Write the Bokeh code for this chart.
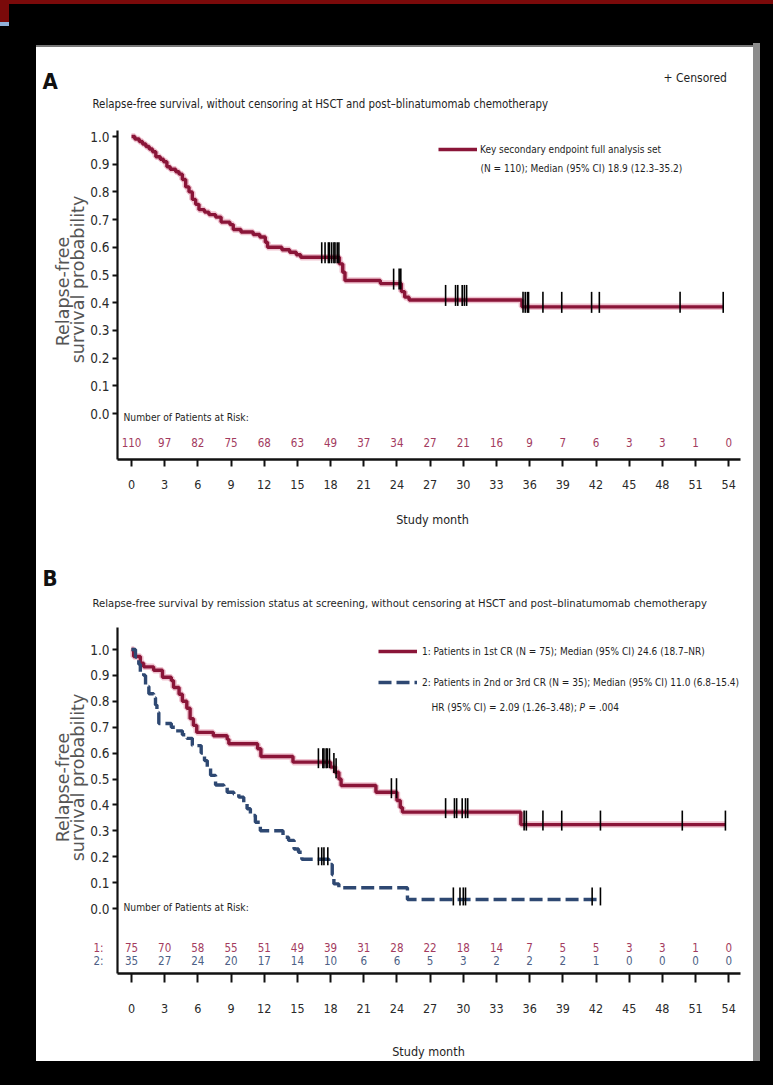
import numpy as np
from bokeh.plotting import figure
from bokeh.layouts import column
from bokeh.models import (Range1d, FixedTicker, PrintfTickFormatter, Label, Legend, LegendItem,
                          GlobalInlineStyleSheet)
from bokeh.core.properties import value
from bokeh.embed import file_html
from bokeh.resources import INLINE

# ---------------- data ----------------
months = [0, 3, 6, 9, 12, 15, 18, 21, 24, 27, 30, 33, 36, 39, 42, 45, 48, 51, 54]
y_ticks = [0.0, 0.1, 0.2, 0.3, 0.4, 0.5, 0.6, 0.7, 0.8, 0.9, 1.0]

# Panel A: full analysis set
a_time = [0, 0.3, 0.7, 1.0, 1.3, 1.6, 1.9, 2.2, 2.6, 2.9, 3.2, 3.5, 4.0, 4.3, 4.6, 4.9, 5.2, 5.5,
          5.8, 6.1, 6.6, 7.0, 7.6, 8.1, 8.9, 9.2, 9.9, 11.0, 11.6, 12.1, 12.3, 13.6, 14.3, 14.9,
          15.3, 18.8, 19.1, 19.3, 22.5, 24.4, 24.7, 25.1, 35.3]
a_surv = [1.0, 0.991, 0.982, 0.973, 0.964, 0.955, 0.945, 0.927, 0.918, 0.909, 0.891, 0.882, 0.873,
          0.864, 0.845, 0.818, 0.800, 0.773, 0.755, 0.736, 0.727, 0.718, 0.709, 0.691, 0.682, 0.664,
          0.655, 0.646, 0.637, 0.618, 0.600, 0.591, 0.582, 0.573, 0.564, 0.540, 0.510, 0.480, 0.469,
          0.440, 0.420, 0.410, 0.385]
a_end = 53.5
a_censor = [17.2, 17.5, 17.8, 17.9, 18.1, 18.3, 18.4, 18.6, 18.75, 23.7, 24.2, 24.35, 28.4, 29.3,
            29.5, 29.9, 30.1, 30.3, 35.4, 35.6, 35.8, 35.9, 37.2, 38.9, 41.6, 42.3, 49.6, 53.5]
a_risk = [110, 97, 82, 75, 68, 63, 49, 37, 34, 27, 21, 16, 9, 7, 6, 3, 3, 1, 0]

# Panel B: group 1 (1st CR) and group 2 (2nd or 3rd CR)
b1_time = [0, 0.2, 0.8, 1.1, 2.0, 2.8, 3.6, 3.8, 4.3, 4.6, 5.0, 5.3, 5.6, 5.9, 7.4, 8.65, 8.8,
           11.4, 11.7, 14.6, 18.0, 18.4, 18.75, 18.95, 22.1, 24.0, 24.3, 24.5, 35.2]
b1_surv = [1.0, 0.973, 0.947, 0.933, 0.920, 0.893, 0.880, 0.853, 0.827, 0.800, 0.773, 0.733,
           0.707, 0.680, 0.667, 0.653, 0.636, 0.617, 0.587, 0.565, 0.546, 0.526, 0.500, 0.475,
           0.449, 0.417, 0.390, 0.372, 0.324]
b1_end = 53.7
b1_censor = [16.9, 17.3, 17.4, 17.6, 17.7, 17.9, 18.3, 18.5, 23.5, 23.96, 28.4, 29.2, 29.4, 29.9,
             30.2, 30.4, 35.5, 35.7, 37.2, 38.9, 42.4, 49.8, 53.7]
b2_time = [0, 0.36, 0.66, 0.8, 1.1, 1.27, 1.57, 2.0, 2.17, 2.3, 2.47, 3.6, 4.0, 4.6, 5.0, 5.5,
           6.3, 6.6, 6.85, 7.15, 7.6, 8.35, 8.65, 9.25, 9.7, 10.15, 10.45, 10.75, 11.2, 11.65,
           13.7, 14.2, 14.7, 15.1, 15.4, 17.85, 18.15, 18.3, 18.75, 24.95]
b2_surv = [1.0, 0.971, 0.943, 0.914, 0.900, 0.857, 0.829, 0.814, 0.786, 0.757, 0.714, 0.700,
           0.686, 0.671, 0.657, 0.629, 0.600, 0.571, 0.543, 0.514, 0.477, 0.466, 0.449, 0.442,
           0.430, 0.404, 0.385, 0.359, 0.333, 0.300, 0.275, 0.263, 0.230, 0.217, 0.190, 0.170,
           0.130, 0.095, 0.080, 0.035]
b2_end = 42.4
b2_censor = [16.9, 17.2, 17.4, 17.75, 29.1, 29.7, 30.0, 30.2, 41.65, 42.4]
b1_risk = [75, 70, 58, 55, 51, 49, 39, 31, 28, 22, 18, 14, 7, 5, 5, 3, 3, 1, 0]
b2_risk = [35, 27, 24, 20, 17, 14, 10, 6, 6, 5, 3, 2, 2, 2, 1, 0, 0, 0, 0]

# ---------------- style ----------------
COND = "DejaVu Sans Condensed"
LABFONT = "DejaVu Sans"
RED = "#8a1538"
HALO = "#efc3d0"
BLUE = "#2e4872"
RISK_RED = "#a33b5e"
RISK_BLUE = "#4d5f86"
TXT = "#1e1e1e"
LEG_SIZE = 10

X0PX, PXM = 131.0, 11.06          # page x of month 0, px per month
PAGE_L, PAGE_R = 36, 753          # white panel edges (page px)
AXIS_L, AXIS_R = 117, 740


def mx(px):
    return (px - X0PX) / PXM


def make_fig(top_px, bot_px, y0px, ypx, axis_top, axis_bot, tick_out, standoff):
    def yv(py):
        return (y0px - py) / ypx
    p = figure(width=PAGE_R - PAGE_L, height=bot_px - top_px,
               x_range=Range1d(mx(PAGE_L), mx(PAGE_R)), y_range=Range1d(yv(bot_px), yv(top_px)),
               output_backend="svg", toolbar_location=None, min_border=0)
    p.outline_line_color = None
    p.xgrid.visible = False
    p.ygrid.visible = False
    p.background_fill_color = "white"
    p.border_fill_color = "white"
    xa, ya_ = p.xaxis[0], p.yaxis[0]
    for ax in (xa, ya_):
        ax.axis_line_color = "#111"
        ax.major_tick_line_color = "#111"
        ax.minor_tick_line_color = None
        ax.major_tick_in = 0
        ax.major_label_text_font = COND
        ax.major_label_text_color = "#2a2a2a"
    xa.fixed_location = yv(axis_bot)
    xa.bounds = (mx(AXIS_L), mx(AXIS_R))
    xa.axis_line_width = 2.6
    xa.major_tick_line_width = 2
    xa.major_tick_out = tick_out
    xa.major_label_standoff = standoff
    xa.major_label_text_font_size = "12.5px"
    xa.ticker = FixedTicker(ticks=months)
    ya_.fixed_location = mx(AXIS_L)
    ya_.bounds = (yv(axis_bot), yv(axis_top))
    ya_.axis_line_width = 2.2
    ya_.major_tick_line_width = 2
    ya_.major_tick_out = 5
    ya_.major_label_standoff = 3
    ya_.major_label_text_font_size = "13.5px"
    ya_.ticker = FixedTicker(ticks=y_ticks)
    ya_.formatter = PrintfTickFormatter(format="%.1f")
    return p


def lab(p, x, y, text, size, font=COND, color=TXT, align="left", baseline="middle",
        style="normal", angle=0):
    p.add_layout(Label(x=x, y=y, text=text, text_font=font, text_font_size=f"{size}px",
                       text_color=color, text_align=align, text_baseline=baseline,
                       text_font_style=style, angle=angle, angle_units="deg"))


def km(p, t, s, end, color, dash="solid", halo=False):
    xs = list(t) + [end]
    ys = list(s) + [s[-1]]
    if halo:
        p.step(xs, ys, mode="after", line_color=HALO, line_width=6.5)
    return p.step(xs, ys, mode="after", line_color=color, line_width=3.4, line_dash=dash)


def censor(p, t, s, c, ypx, up=15, down=6):
    idx = np.searchsorted(np.array(t), np.array(c), side="right") - 1
    sv = np.array(s)[idx]
    p.segment(x0=c, y0=sv - down / ypx, x1=c, y1=sv + up / ypx, line_color="black",
              line_width=1.6)


def legend(p, items, loc, spacing=0, standoff=4):
    leg = Legend(items=items, location=loc, border_line_color=None, background_fill_alpha=0,
                 padding=0, margin=0, spacing=spacing, glyph_width=39, glyph_height=20,
                 label_height=20, label_standoff=standoff, label_text_font=COND,
                 label_text_font_size=f"{LEG_SIZE}px", label_text_color=TXT,
                 label_text_baseline="middle")
    p.add_layout(leg)


def ylabel(p, yfun, c1, c2):
    lab(p, mx(62), yfun(c1), "Relapse-free", 17.5, font=LABFONT, color="#555", align="center",
        baseline="alphabetic", angle=90)
    lab(p, mx(77), yfun(c2), "survival probability", 17.5, font=LABFONT, color="#555",
        align="center", baseline="alphabetic", angle=90)


# ---------------- Panel A ----------------
A_TOP, A_BOT = 47, 540
AY0, AYS = 413.0, 277.0
pA = make_fig(A_TOP, A_BOT, AY0, AYS, 130, 459, 7, 13)


def ya(py):
    return (AY0 - py) / AYS


rA = km(pA, a_time, a_surv, a_end, RED, halo=True)
censor(pA, a_time, a_surv, a_censor, AYS)
pA.text(x=months, y=[ya(442)] * len(months), text=[str(v) for v in a_risk], text_align="center",
        text_baseline="middle", text_font=value(COND), text_font_size="11.5px",
        text_color=RISK_RED)
lab(pA, mx(123), ya(417), "Number of Patients at Risk:", 10.2)
lab(pA, mx(42), ya(81), "A", 22, style="bold", color="#111")
lab(pA, mx(92), ya(103), "Relapse-free survival, without censoring at HSCT and post\u2013blinatumomab chemotherapy", 11.4)
lab(pA, mx(663), ya(77), "+ Censored", 12)
lab(pA, mx(432), ya(519), "Study month", 12.5, align="center")
ylabel(pA, ya, 291, 279)
legend(pA, [LegendItem(label="Key secondary endpoint full analysis set", renderers=[rA])],
       (438 - PAGE_L, A_BOT - 159), standoff=3)
lab(pA, mx(480), ya(168), "(N = 110); Median (95% CI) 18.9 (12.3\u201335.2)", LEG_SIZE)

# ---------------- Panel B ----------------
B_TOP, B_BOT = 540, 1061
BY0, BYS = 908.0, 259.0
pB = make_fig(B_TOP, B_BOT, BY0, BYS, 627, 973, 9, 21)


def yb(py):
    return (BY0 - py) / BYS


rB1 = km(pB, b1_time, b1_surv, b1_end, RED, halo=True)
rB2 = km(pB, b2_time, b2_surv, b2_end, BLUE, dash="13 5")
censor(pB, b1_time, b1_surv, b1_censor, BYS, up=14)
censor(pB, b2_time, b2_surv, b2_censor, BYS, up=12)
pB.text(x=months, y=[yb(947)] * len(months), text=[str(v) for v in b1_risk], text_align="center",
        text_baseline="middle", text_font=value(COND), text_font_size="11.5px",
        text_color=RISK_RED)
pB.text(x=months, y=[yb(960)] * len(months), text=[str(v) for v in b2_risk], text_align="center",
        text_baseline="middle", text_font=value(COND), text_font_size="11.5px",
        text_color=RISK_BLUE)
lab(pB, mx(103), yb(947), "1:", 11.5, color=RISK_RED, align="right")
lab(pB, mx(103), yb(960), "2:", 11.5, color=RISK_BLUE, align="right")
lab(pB, mx(123), yb(907), "Number of Patients at Risk:", 10.2)
lab(pB, mx(42), yb(578), "B", 22, style="bold", color="#111")
lab(pB, mx(92), yb(603), "Relapse-free survival by remission status at screening, without censoring at HSCT and post\u2013blinatumomab chemotherapy", 11.2)
lab(pB, mx(428), yb(1051), "Study month", 12.5, align="center")
ylabel(pB, yb, 787, 777)
legend(pB, [LegendItem(label="1: Patients in 1st CR (N = 75); Median (95% CI) 24.6 (18.7\u2013NR)", renderers=[rB1]),
            LegendItem(label="2: Patients in 2nd or 3rd CR (N = 35); Median (95% CI) 11.0 (6.8\u201315.4)", renderers=[rB2])],
       (378 - PAGE_L, B_BOT - 692), spacing=11, standoff=5)
HR_X = 431
lab(pB, mx(HR_X), yb(707), "HR (95% CI) = 2.09 (1.26\u20133.48);", LEG_SIZE)
lab(pB, mx(HR_X + 148), yb(707), "P", LEG_SIZE, style="italic")
lab(pB, mx(HR_X + 157), yb(707), "= .004", LEG_SIZE)

# ---------------- page ----------------
layout = column(pA, pB, spacing=0)
layout.margin = (A_TOP, 0, 0, PAGE_L)
layout.styles = {"background-color": "white"}
layout.stylesheets = [GlobalInlineStyleSheet(css=(
    "html{background:"
    "linear-gradient(#7a0a0a,#7a0a0a) no-repeat 0 0 / 100% 4px,"
    "linear-gradient(#7a0a0a,#7a0a0a) no-repeat 0 0 / 9px 22px,"
    "linear-gradient(#8fb0d8,#8fb0d8) no-repeat 0 22px / 9px 4px,"
    "linear-gradient(#8c8c8c,#8c8c8c) no-repeat 753px 43px / 7px 1018px,"
    "linear-gradient(#777,#777) no-repeat 36px 45px / 717px 2px,"
    "#000;}"
    "body{background:transparent;}"))]

open("out.html", "w").write(file_html(layout, INLINE))
